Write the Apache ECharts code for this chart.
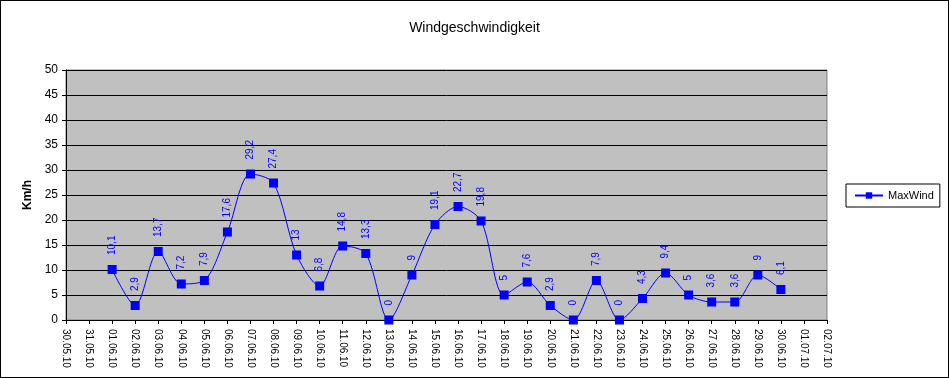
<!DOCTYPE html>
<html>
<head>
<meta charset='utf-8'>
<title>Windgeschwindigkeit</title>
<script src='https://cdn.jsdelivr.net/npm/echarts@6/dist/echarts.min.js'></script>
<style>
  html, body { margin: 0; padding: 0; background: #fff; }
  #main { width: 947px; height: 376px; border: 1px solid #000; }
</style>
</head>
<body>
<div id='main'></div>
<script type='text/javascript'>
var days = ['30.05.10', '31.05.10', '01.06.10', '02.06.10', '03.06.10', '04.06.10', '05.06.10',
    '06.06.10', '07.06.10', '08.06.10', '09.06.10', '10.06.10', '11.06.10', '12.06.10',
    '13.06.10', '14.06.10', '15.06.10', '16.06.10', '17.06.10', '18.06.10', '19.06.10',
    '20.06.10', '21.06.10', '22.06.10', '23.06.10', '24.06.10', '25.06.10', '26.06.10',
    '27.06.10', '28.06.10', '29.06.10', '30.06.10', '01.07.10', '02.07.10'];
// null = kein Messwert
var maxWind = [null, null, 10.1, 2.9, 13.7, 7.2, 7.9, 17.6, 29.2, 27.4, 13, 6.8, 14.8, 13.3,
    0, 9, 19.1, 22.7, 19.8, 5, 7.6, 2.9, 0, 7.9, 0, 4.3, 9.4, 5, 3.6, 3.6, 9, 6.1, null, null];
var yTicks = [0, 5, 10, 15, 20, 25, 30, 35, 40, 45, 50];

var myChart = echarts.init(document.getElementById('main'));
var font = 'Liberation Sans, Arial, sans-serif';

var option = {
    animation: false,
    title: {
        text: 'Windgeschwindigkeit',
        left: 'center',
        top: 15,
        textStyle: { fontFamily: font, fontSize: 14, fontWeight: 'normal', color: '#000' }
    },
    legend: {
        data: ['MaxWind'],
        orient: 'vertical',
        left: 845,
        top: 183,
        padding: [6, 6, 6, 8],
        borderColor: '#000',
        borderWidth: 1,
        borderRadius: 0,
        itemWidth: 28,
        itemHeight: 8,
        textStyle: { fontFamily: font, fontSize: 11, color: '#000' }
    },
    grid: { left: 65, right: 121, top: 69, bottom: 57, show: true, backgroundColor: '#c0c0c0', borderColor: '#808080', borderWidth: 1 },
    xAxis: {
        type: 'category',
        data: days,
        boundaryGap: false,
        axisLine: { lineStyle: { color: '#000' } },
        axisTick: { show: true, length: 4, lineStyle: { color: '#000' } },
        axisLabel: { rotate: -90, interval: 0, fontFamily: font, fontSize: 10, color: '#000', margin: 9 },
        splitLine: { show: false }
    },
    yAxis: {
        type: 'value',
        min: yTicks[0],
        max: yTicks[yTicks.length - 1],
        interval: 5,
        name: 'Km/h',
        nameLocation: 'middle',
        nameGap: 28,
        nameTextStyle: { fontFamily: font, fontSize: 12, fontWeight: 'bold', color: '#000' },
        axisLine: { show: true, lineStyle: { color: '#000' } },
        axisTick: { show: true, length: 4, lineStyle: { color: '#000' } },
        axisLabel: { fontFamily: font, fontSize: 12, color: '#000', margin: 8 },
        splitLine: { show: true, lineStyle: { color: '#000', width: 1 } }
    },
    series: [{
        name: 'MaxWind',
        type: 'line',
        data: maxWind,
        smooth: 0.3,
        connectNulls: false,
        symbol: 'rect',
        symbolSize: 9,
        lineStyle: { color: '#0000ff', width: 1 },
        itemStyle: { color: '#0000ff' },
        label: {
            show: true,
            position: 'top',
            rotate: 90,
            align: 'left',
            verticalAlign: 'middle',
            distance: 10,
            fontFamily: font,
            fontSize: 10,
            color: '#0000ff',
            formatter: function (p) { return String(p.value).replace('.', ','); }
        }
    }]
};

myChart.setOption(option);
</script>
</body>
</html>
